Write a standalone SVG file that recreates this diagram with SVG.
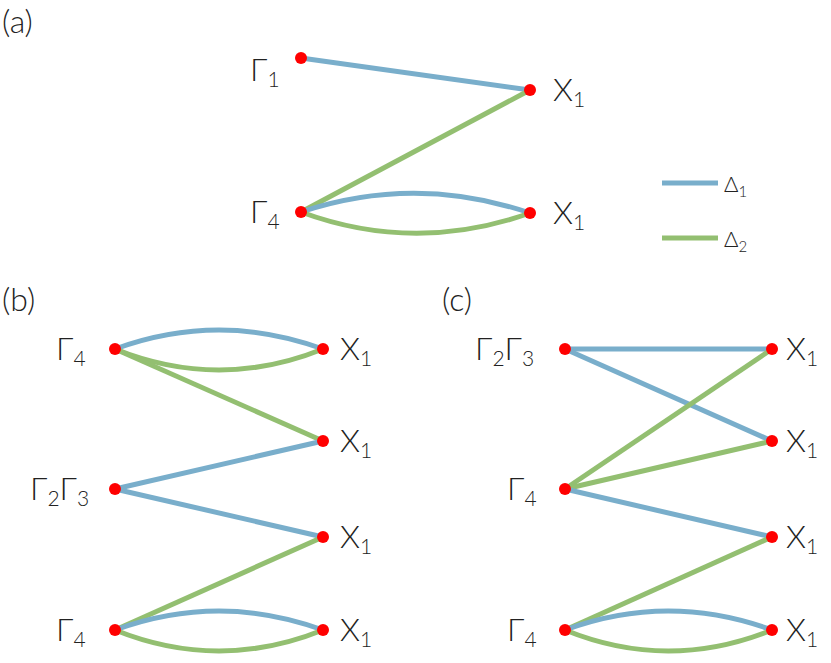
<svg xmlns="http://www.w3.org/2000/svg" width="831" height="663" viewBox="0 0 831 663">
<style>
text{font-family:Lato,"Open Sans",sans-serif;font-weight:300;font-size:32px;fill:#222}
.s{font-size:21px}
.b{stroke:#79aecb;stroke-width:5;fill:none}
.g{stroke:#93bf71;stroke-width:5;fill:none}
circle{fill:#f00}
</style>
<rect width="831" height="663" fill="#fff"/>
<text x="2" y="33">(a)</text>
<text x="2" y="311">(b)</text>
<text x="442" y="311">(c)</text>
<g id="connectors">
<path class="b" d="M301,58 L530,90"/>
<path class="g" d="M530,90 L301,212"/>
<path class="b" d="M301,212 Q415,174 530,213"/>
<path class="g" d="M301,212 Q415,254 530,213"/>
<path class="b" d="M662,183 H718"/>
<path class="g" d="M662,238 H718"/>
<path class="b" d="M115,349 Q219,311 323,349"/>
<path class="g" d="M115,349 Q219,391 323,349"/>
<path class="g" d="M115,349 L323,441"/>
<path class="b" d="M323,441 L115,489"/>
<path class="b" d="M115,489 L323,537"/>
<path class="g" d="M323,537 L115,630"/>
<path class="b" d="M115,630 Q219,592 323,630"/>
<path class="g" d="M115,630 Q219,672 323,630"/>
<path class="b" d="M565,349 L772,349"/>
<path class="b" d="M565,349 L772,441"/>
<path class="g" d="M565,489 L772,349"/>
<path class="g" d="M565,489 L772,441"/>
<path class="b" d="M565,489 L772,537"/>
<path class="g" d="M772,537 L565,630"/>
<path class="b" d="M565,630 Q668,592 772,630"/>
<path class="g" d="M565,630 Q668,672 772,630"/>
</g>
<g id="legend">
<text x="724" y="192" style="font-size:22px">Δ<tspan class="s" dy="5" style="font-size:15px">1</tspan></text>
<text x="724" y="247" style="font-size:22px">Δ<tspan class="s" dy="5" style="font-size:15px">2</tspan></text>
</g>
<g id="a-G1"><circle cx="301" cy="58" r="6"/><text x="250" y="81">Γ<tspan class="s" dy="6">1</tspan></text></g>
<g id="a-X1a"><circle cx="530" cy="90" r="6"/><text x="553" y="101">X<tspan class="s" dy="6">1</tspan></text></g>
<g id="a-G4"><circle cx="301" cy="212" r="6"/><text x="250" y="223">Γ<tspan class="s" dy="6">4</tspan></text></g>
<g id="a-X1b"><circle cx="530" cy="213" r="6"/><text x="553" y="224">X<tspan class="s" dy="6">1</tspan></text></g>
<g id="b-G4a"><circle cx="115" cy="349" r="6"/><text x="56" y="360">Γ<tspan class="s" dy="6">4</tspan></text></g>
<g id="b-X1a"><circle cx="323" cy="349" r="6"/><text x="340" y="360">X<tspan class="s" dy="6">1</tspan></text></g>
<g id="b-X1b"><circle cx="323" cy="441" r="6"/><text x="340" y="452">X<tspan class="s" dy="6">1</tspan></text></g>
<g id="b-G23"><circle cx="115" cy="489" r="6"/><text x="30" y="500">Γ<tspan class="s" dy="6">2</tspan><tspan dy="-6">Γ</tspan><tspan class="s" dy="6">3</tspan></text></g>
<g id="b-X1c"><circle cx="323" cy="537" r="6"/><text x="340" y="548">X<tspan class="s" dy="6">1</tspan></text></g>
<g id="b-G4b"><circle cx="115" cy="630" r="6"/><text x="56" y="641">Γ<tspan class="s" dy="6">4</tspan></text></g>
<g id="b-X1d"><circle cx="323" cy="630" r="6"/><text x="340" y="641">X<tspan class="s" dy="6">1</tspan></text></g>
<g id="c-G23"><circle cx="565" cy="349" r="6"/><text x="475" y="360">Γ<tspan class="s" dy="6">2</tspan><tspan dy="-6">Γ</tspan><tspan class="s" dy="6">3</tspan></text></g>
<g id="c-X1a"><circle cx="772" cy="349" r="6"/><text x="786" y="360">X<tspan class="s" dy="6">1</tspan></text></g>
<g id="c-X1b"><circle cx="772" cy="441" r="6"/><text x="786" y="452">X<tspan class="s" dy="6">1</tspan></text></g>
<g id="c-G4a"><circle cx="565" cy="489" r="6"/><text x="507" y="500">Γ<tspan class="s" dy="6">4</tspan></text></g>
<g id="c-X1c"><circle cx="772" cy="537" r="6"/><text x="786" y="548">X<tspan class="s" dy="6">1</tspan></text></g>
<g id="c-G4b"><circle cx="565" cy="630" r="6"/><text x="507" y="641">Γ<tspan class="s" dy="6">4</tspan></text></g>
<g id="c-X1d"><circle cx="772" cy="630" r="6"/><text x="786" y="641">X<tspan class="s" dy="6">1</tspan></text></g>
</svg>
